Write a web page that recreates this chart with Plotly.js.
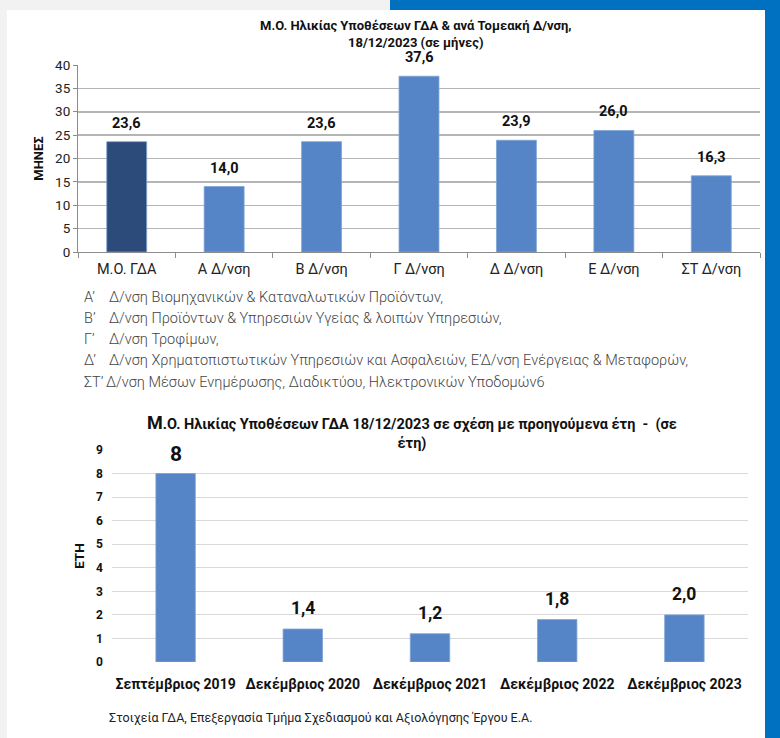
<!DOCTYPE html>
<html><head><meta charset="utf-8">
<script src="https://cdn.plot.ly/plotly-3.0.1.min.js"></script>
<style>html,body{margin:0;padding:0;background:#f2f2f2;}#chart{width:780px;height:738px;}</style>
</head><body><div id="chart"></div>
<script>
// Chart 1 data
const categories1 = ['Μ.Ο. ΓΔΑ', 'Α Δ/νση', 'Β Δ/νση', 'Γ Δ/νση', 'Δ Δ/νση', 'Ε Δ/νση', 'ΣΤ Δ/νση'];
const values1 = [23.6, 14.0, 23.6, 37.6, 23.9, 26.0, 16.3];
const yTicks1 = [0, 5, 10, 15, 20, 25, 30, 35, 40];

// Chart 2 data
const categories2 = ['Σεπτέμβριος 2019', 'Δεκέμβριος 2020', 'Δεκέμβριος 2021', 'Δεκέμβριος 2022', 'Δεκέμβριος 2023'];
const values2 = [8, 1.4, 1.2, 1.8, 2.0];
const valueLabels2 = ['8', '1,4', '1,2', '1,8', '2,0'];
const yTicks2 = [0, 1, 2, 3, 4, 5, 6, 7, 8, 9];

// Texts
const title1 = 'Μ.Ο. Ηλικίας Υποθέσεων ΓΔΑ & ανά Τομεακή Δ/νση,<br>18/12/2023 (σε μήνες)';
const title2 = '<span style="font-size:18px">Μ</span>.Ο. Ηλικίας Υποθέσεων ΓΔΑ 18/12/2023 σε σχέση με προηγούμενα έτη  -  (σε<br>έτη)';
const notePrefixes = ['Α’', 'Β’', 'Γ’', 'Δ’', 'ΣΤ’'];
const notes = [
  'Δ/νση Βιομηχανικών & Καταναλωτικών Προϊόντων,',
  'Δ/νση Προϊόντων & Υπηρεσιών Υγείας & λοιπών Υπηρεσιών,',
  'Δ/νση Τροφίμων,',
  'Δ/νση Χρηματοπιστωτικών Υπηρεσιών και Ασφαλειών, Ε’Δ/νση Ενέργειας & Μεταφορών,',
  'Δ/νση Μέσων Ενημέρωσης, Διαδικτύου, Ηλεκτρονικών Υποδομών6'
];
const source = 'Στοιχεία ΓΔΑ, Επεξεργασία Τμήμα Σχεδιασμού και Αξιολόγησης Έργου Ε.Α.';

const W = 780, H = 738;
const px = x => x / W;
const py = y => 1 - y / H;
const FONT = 'Roboto, "Noto Sans", sans-serif';

const colors1 = values1.map((v, i) => i === 0 ? '#2c4b7b' : '#5585c6');

const trace1 = {
  type: 'bar', x: categories1, y: values1, xaxis: 'x', yaxis: 'y',
  marker: {color: colors1, line: {color: '#7ea3d6', width: 0.8}},
  width: 0.41, hoverinfo: 'none'
};
const trace2 = {
  type: 'bar', x: categories2, y: values2, xaxis: 'x2', yaxis: 'y2',
  marker: {color: '#5585c6', line: {color: '#7ea3d6', width: 0.8}},
  width: 0.31, hoverinfo: 'none'
};

const annotations = [];
categories1.forEach((c, i) => annotations.push({
  xref: 'x', yref: 'y', x: c, y: values1[i], text: '<b>' + values1[i].toFixed(1).replace('.', ',') + '</b>',
  showarrow: false, yanchor: 'bottom', yshift: 8, font: {family: FONT, size: 14.5, color: '#111'}
}));
categories2.forEach((c, i) => annotations.push({
  xref: 'x2', yref: 'y2', x: c, y: values2[i], text: '<b>' + valueLabels2[i] + '</b>',
  showarrow: false, yanchor: 'bottom', yshift: i === 0 ? 6 : 9,
  font: {family: FONT, size: i === 0 ? 21 : 17.5, color: '#111'}
}));
// titles
annotations.push({xref: 'paper', yref: 'paper', x: px(416), y: py(34), text: '<b>' + title1 + '</b>',
  showarrow: false, xanchor: 'center', yanchor: 'middle', align: 'center',
  font: {family: FONT, size: 13, color: '#111'}});
annotations.push({xref: 'paper', yref: 'paper', x: px(412), y: py(432), text: '<b>' + title2 + '</b>',
  showarrow: false, xanchor: 'center', yanchor: 'middle', align: 'center',
  font: {family: FONT, size: 14.5, color: '#111'}});
notes.forEach((t, i) => {
  annotations.push({xref: 'paper', yref: 'paper', x: px(82), y: py(297 + i * 21.3), text: notePrefixes[i],
    showarrow: false, xanchor: 'left', yanchor: 'middle', align: 'left',
    font: {family: FONT, size: 14.5, color: '#444', weight: 300}});
  annotations.push({xref: 'paper', yref: 'paper', x: px(i === 4 ? 104 : 107), y: py(297 + i * 21.3), text: t,
    showarrow: false, xanchor: 'left', yanchor: 'middle', align: 'left',
    font: {family: FONT, size: 14.5, color: '#444', weight: 300}});
});
annotations.push({xref: 'paper', yref: 'paper', x: px(107), y: py(718), text: source,
  showarrow: false, xanchor: 'left', yanchor: 'middle', align: 'left',
  font: {family: FONT, size: 12.5, color: '#222'}});

const shapes = [
  {type: 'rect', xref: 'paper', yref: 'paper', x0: px(7), x1: px(765), y0: 0, y1: py(10), fillcolor: '#ffffff', line: {width: 0}, layer: 'below'},
  {type: 'rect', xref: 'paper', yref: 'paper', x0: px(390), x1: 1, y0: py(10), y1: 1, fillcolor: '#0070c0', line: {width: 0}, layer: 'below'},
  {type: 'rect', xref: 'paper', yref: 'paper', x0: px(765), x1: 1, y0: 0, y1: 1, fillcolor: '#0070c0', line: {width: 0}, layer: 'below'}
];

const layout = {
  width: W, height: H, margin: {l: 0, r: 0, t: 0, b: 0},
  paper_bgcolor: '#f2f2f2', plot_bgcolor: 'rgba(0,0,0,0)',
  showlegend: false, separators: ',.',
  font: {family: FONT, color: '#333'},
  xaxis: {domain: [px(78), px(760)], anchor: 'y', type: 'category', tickangle: 0, ticklabelstandoff: 4,
    showline: true, linecolor: '#8c8c8c', linewidth: 1, ticks: 'outside', tickson: 'boundaries',
    ticklen: 5, tickcolor: '#8c8c8c', showgrid: false, fixedrange: true,
    tickfont: {family: FONT, size: 14.5, color: '#222'}},
  yaxis: {domain: [py(252), py(65)], anchor: 'x', range: [0, 40], tickvals: yTicks1,
    showline: true, linecolor: '#8c8c8c', linewidth: 1, ticks: 'outside', ticklen: 4, tickcolor: '#8c8c8c',
    showgrid: true, gridcolor: '#b5b5b5', gridwidth: 1.5, zeroline: false, fixedrange: true,
    tickfont: {family: FONT, size: 13.5, color: '#222'},
    title: {text: '<b>ΜΗΝΕΣ</b>', font: {family: FONT, size: 13, color: '#111'}, standoff: 8}},
  xaxis2: {domain: [px(112), px(748)], anchor: 'y2', type: 'category', tickangle: 0, ticklabelstandoff: 12,
    showline: false, ticks: '', showgrid: false, fixedrange: true,
    tickfont: {family: FONT, size: 14, color: '#111', weight: 'bold'}},
  yaxis2: {domain: [py(662), py(450)], anchor: 'x2', range: [0, 9], tickvals: yTicks2, ticklabelstandoff: 8,
    showline: false, ticks: '', showgrid: true, gridcolor: '#d9d9d9', gridwidth: 1, zeroline: false, fixedrange: true,
    tickfont: {family: FONT, size: 12, color: '#111', weight: 'bold'},
    title: {text: '<b>ΕΤΗ</b>', font: {family: FONT, size: 13.5, color: '#111'}, standoff: 8}},
  annotations: annotations,
  shapes: shapes
};

Plotly.newPlot('chart', [trace1, trace2], layout, {displayModeBar: false, staticPlot: true});
</script></body></html>
